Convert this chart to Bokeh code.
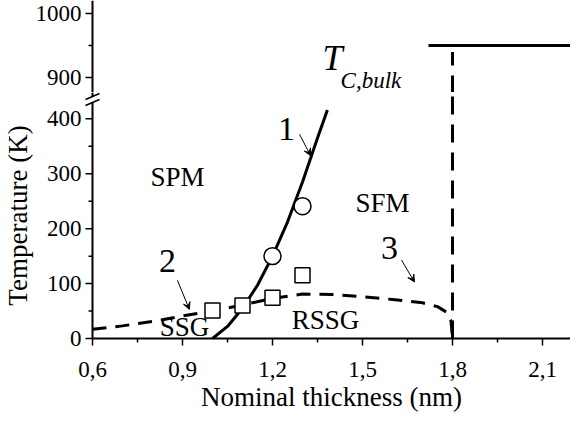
import math
from bokeh.plotting import figure
from bokeh.layouts import column
from bokeh.models import Range1d, Label, Arrow, VeeHead
from bokeh.embed import file_html
from bokeh.resources import INLINE

FONT = "Liberation Serif"

# ---------------- data ----------------
# curve 1 (solid, SPM / SFM boundary)
curve1_x = [1.0, 1.05, 1.1, 1.15, 1.2, 1.25, 1.3, 1.35, 1.383]
curve1_T = [0, 22, 55, 97, 150, 212, 285, 365, 416]
# curves 2-3 (dashed, spin-glass boundary)
curve23_x = [0.6, 0.7, 0.8, 0.9, 1.0, 1.1, 1.2, 1.3, 1.4, 1.5, 1.6, 1.7, 1.75, 1.78, 1.795, 1.8]
curve23_T = [17, 23, 31, 41, 50, 61, 73, 81, 80, 76, 71, 65, 58, 48, 32, 0]
# experimental points
circle_x = [1.2, 1.3]
circle_T = [150, 241]
square_x = [1.0, 1.1, 1.2, 1.3]
square_T = [51, 60, 74, 115]
# bulk Curie temperature line and 1.8 nm boundary
tc_x = [1.72, 2.2]
tc_T = [950, 950]
bound_x = [1.8, 1.8]
bound_T = [0, 940]

x_ticks = [0.6, 0.9, 1.2, 1.5, 1.8, 2.1]
x_tick_labels = ["0,6", "0,9", "1,2", "1,5", "1,8", "2,1"]
x_minor = [0.75, 1.05, 1.35, 1.65, 1.95]
y_ticks_low = [0, 100, 200, 300, 400]
y_tick_labels_low = ["0", "100", "200", "300", "400"]
y_minor_low = [50, 150, 250, 350]
y_ticks_up = [900, 1000]
y_tick_labels_up = ["900", "1000"]
y_minor_up = [950]

# ---------------- geometry (pixels) ----------------
W = 570
LEFT = 92                      # space left of the y axis line
PX = 300.0                     # pixels per nm
X0 = 0.6                       # axis origin
X_LEFT = X0 - LEFT / PX
X1 = X0 + (W - LEFT) / PX
xr = Range1d(X_LEFT, X1)

TOP_H = 92
TOP_S = 0.64                   # px per K, upper panel
TOP_Y1 = 1000 + 13 / TOP_S
TOP_Y0 = TOP_Y1 - TOP_H / TOP_S

BELOW = 82                     # room under the x axis for tick labels and title
BOT_FRAME = 246
BOT_H = BOT_FRAME + BELOW
BOT_Y1 = 448
BOT_S = BOT_FRAME / BOT_Y1     # px per K, lower panel
BOT_Y0 = -BELOW / BOT_S

MAJ, MIN = 7, 4                # tick lengths


def panel(h, yr):
    p = figure(width=W, height=h, x_range=xr, y_range=yr, x_axis_type=None, y_axis_type=None,
               output_backend="svg", toolbar_location=None, min_border=0)
    p.outline_line_color = None
    p.background_fill_color = "white"
    p.border_fill_color = "white"
    return p


def y_axis(p, y0, y1, ticks, labels, minor):
    p.segment(x0=[X0], y0=[y0], x1=[X0], y1=[y1], line_color="black", line_width=2)
    p.segment(x0=[X0 - MAJ / PX] * len(ticks), y0=ticks, x1=[X0] * len(ticks), y1=ticks,
              line_color="black", line_width=1.5)
    p.segment(x0=[X0 - MIN / PX] * len(minor), y0=minor, x1=[X0] * len(minor), y1=minor,
              line_color="black", line_width=1.5)
    for t, s in zip(ticks, labels):
        p.add_layout(Label(x=X0 - 11 / PX, y=t, text=s, text_font=FONT, text_font_size="23px",
                           text_color="black", text_align="right", text_baseline="middle"))


# ---------------- upper panel ----------------
top = panel(TOP_H, Range1d(TOP_Y0, TOP_Y1))
y_axis(top, TOP_Y0, TOP_Y1, y_ticks_up, y_tick_labels_up, y_minor_up)
top.line(tc_x, tc_T, line_color="black", line_width=3)
top.line(bound_x, bound_T, line_color="black", line_width=3, line_dash="18 10")
top.add_layout(Label(x=1.367, y=930, text="T", text_font=FONT, text_font_size="36px",
                     text_font_style="italic", text_color="black",
                     text_align="left", text_baseline="alphabetic"))
top.add_layout(Label(x=1.427, y=896, text="C,bulk", text_font=FONT, text_font_size="23px",
                     text_font_style="italic", text_color="black",
                     text_align="left", text_baseline="alphabetic"))

# ---------------- lower panel ----------------
bot = panel(BOT_H, Range1d(BOT_Y0, BOT_Y1))
brk_hi = BOT_Y1 - 4 / BOT_S
brk_lo = BOT_Y1 - 10 / BOT_S
y_axis(bot, 0, brk_lo, y_ticks_low, y_tick_labels_low, y_minor_low)
bot.segment(x0=[X0], y0=[brk_hi], x1=[X0], y1=[BOT_Y1], line_color="black", line_width=2)
# axis break marks
bot.segment(x0=[X0 - 7 / PX] * 2, y0=[brk_hi - 3 / BOT_S, brk_lo - 3 / BOT_S],
            x1=[X0 + 7 / PX] * 2, y1=[brk_hi + 3 / BOT_S, brk_lo + 3 / BOT_S],
            line_color="black", line_width=1.5)
# x axis line, ticks, tick labels, title
bot.segment(x0=[X0], y0=[0], x1=[X1], y1=[0], line_color="black", line_width=2)
bot.segment(x0=x_ticks, y0=[0] * len(x_ticks), x1=x_ticks, y1=[-MAJ / BOT_S] * len(x_ticks),
            line_color="black", line_width=1.5)
bot.segment(x0=x_minor, y0=[0] * len(x_minor), x1=x_minor, y1=[-MIN / BOT_S] * len(x_minor),
            line_color="black", line_width=1.5)
for t, s in zip(x_ticks, x_tick_labels):
    bot.add_layout(Label(x=t, y=-31 / BOT_S, text=s, text_font=FONT, text_font_size="23px",
                         text_color="black", text_align="center", text_baseline="alphabetic"))
bot.add_layout(Label(x=(X0 + X1) / 2, y=-58 / BOT_S, text="Nominal thickness (nm)",
                     text_font=FONT, text_font_size="27px", text_color="black",
                     text_align="center", text_baseline="alphabetic"))
bot.add_layout(Label(x=X0 - 75 / PX, y=BOT_Y1 / 2, text="Temperature (K)", text_font=FONT,
                     text_font_size="27px", text_color="black", angle=math.pi / 2,
                     text_align="center", text_baseline="middle"))

bot.line(bound_x, bound_T, line_color="black", line_width=3, line_dash="18 10")
bot.line(curve23_x, curve23_T, line_color="black", line_width=3, line_dash="14 9")
bot.line(curve1_x, curve1_T, line_color="black", line_width=3)
bot.scatter(circle_x, circle_T, marker="circle", size=17, fill_color="white",
            line_color="black", line_width=1.5)
bot.scatter(square_x, square_T, marker="square", size=15, fill_color="white",
            line_color="black", line_width=1.5)


def txt(p, x, y, s, size):
    p.add_layout(Label(x=x, y=y, text=s, text_font=FONT, text_font_size=size,
                       text_color="black", text_align="center", text_baseline="middle"))


txt(bot, 0.883, 294, "SPM", "27px")
txt(bot, 1.567, 246, "SFM", "27px")
txt(bot, 0.907, 21, "SSG", "27px")
txt(bot, 1.377, 34, "RSSG", "27px")
txt(bot, 1.247, 382, "1", "34px")
txt(bot, 0.85, 141, "2", "34px")
txt(bot, 1.59, 165, "3", "34px")

for (xs, ys, xe, ye) in [(1.29, 372, 1.327, 333), (0.883, 106, 0.923, 53), (1.63, 143, 1.673, 103)]:
    bot.add_layout(Arrow(end=VeeHead(size=7, line_width=1, line_color="black"),
                         x_start=xs, y_start=ys, x_end=xe, y_end=ye,
                         line_width=1, line_color="black"))

layout = column(top, bot, spacing=0)
open("out.html", "w").write(file_html(layout, INLINE))
